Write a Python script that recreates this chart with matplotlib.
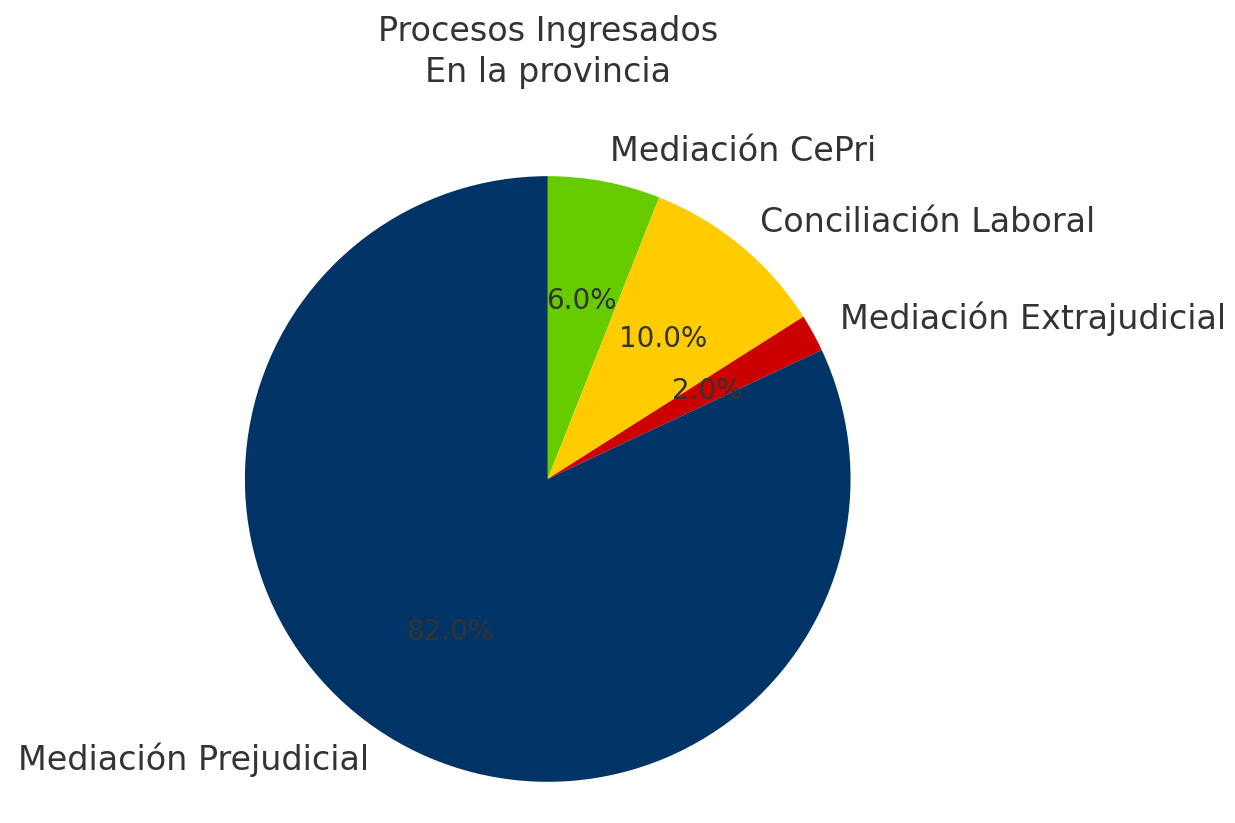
import matplotlib.pyplot as plt

labels = ['Mediación CePri', 'Conciliación Laboral', 'Mediación Extrajudicial', 'Mediación Prejudicial']
values = [6.0, 10.0, 2.0, 82.0]
colors = ['#66cc00', '#ffcc00', '#cc0000', '#003366']

plt.rcParams['text.color'] = '#333333'
fig = plt.figure(figsize=(6.175, 4.115), dpi=200)
ax = fig.add_axes([0.137, -0.043, 0.613, 0.922])
ax.pie(values, labels=labels, colors=colors, autopct='%1.1f%%',
       startangle=90, counterclock=False,
       textprops={'fontsize': 12, 'color': '#333333'})
for t in ax.texts:
    if '%' in t.get_text():
        t.set_fontsize(10)
ax.set_aspect('equal')
fig.text(0.444, 0.937, 'Procesos Ingresados\nEn la provincia', ha='center', va='center',
         fontsize=12, color='#333333', linespacing=1.3)
fig.savefig('out.png', dpi=200)
